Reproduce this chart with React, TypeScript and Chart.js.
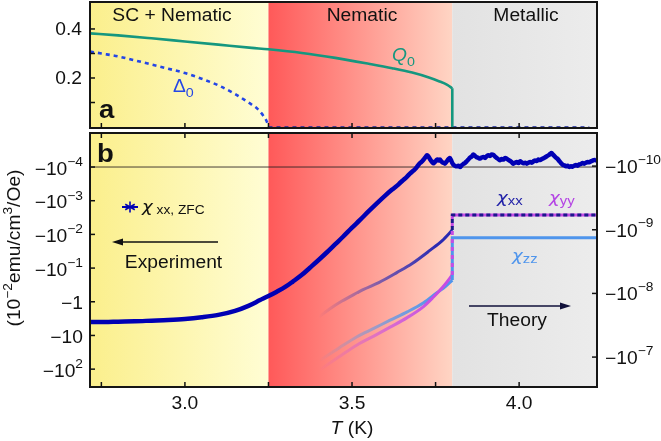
import React, { useEffect, useRef } from "react";
import { Chart, registerables } from "chart.js";
Chart.register(...registerables);

// ---------- data ----------
const T_MIN = 2.716;
const T_MAX = 4.233;
const phaseBounds = [2.716, 3.25, 3.8, 4.233];
const phaseNames = ["SC + Nematic", "Nematic", "Metallic"];

const xTicks = [2.75, 3.0, 3.25, 3.5, 3.75, 4.0];
const xTickLabels = ["", "3.0", "", "3.5", "", "4.0"];
const aTicks = [0.1, 0.2, 0.3, 0.4];
const aTickLabels = ["", "0.2", "", "0.4"];

// left axis of panel b: log10|chi| (10^-2 emu/cm^3/Oe)
const leftTicks = [-4, -3, -2, -1, 0, 1, 2];
const leftTickBase = ["\u221210", "\u221210", "\u221210", "\u221210", "\u22121", "\u221210", "\u221210"];
const leftTickSup = ["\u22124", "\u22123", "\u22122", "\u22121", "", "", "2"];
// right axis of panel b: log10|chi| theory
const rightTicks = [-10, -9, -8, -7];
const rightTickBase = ["\u221210", "\u221210", "\u221210", "\u221210"];
const rightTickSup = ["\u221210", "\u22129", "\u22128", "\u22127"];

// panel a: order parameters
const q0T = [2.716, 2.8, 2.9, 3.0, 3.1, 3.2, 3.25, 3.35, 3.45, 3.55, 3.62, 3.68, 3.73, 3.76, 3.785, 3.8];
const q0 = [0.382, 0.374, 0.362, 0.349, 0.336, 0.323, 0.317, 0.302, 0.282, 0.258, 0.24, 0.222, 0.202, 0.187, 0.172, 0.158];
const q0DropT = [3.8, 3.8];
const q0Drop = [0.158, 0.0];
const d0T = [2.716, 2.75, 2.8, 2.85, 2.9, 2.95, 3.0, 3.05, 3.1, 3.15, 3.19, 3.215, 3.235, 3.245, 3.25];
const d0 = [0.308, 0.3, 0.288, 0.272, 0.255, 0.238, 0.22, 0.197, 0.17, 0.135, 0.1, 0.077, 0.045, 0.022, 0.0];
const d0ZeroT = [3.25, 4.21];
const d0Zero = [0.0, 0.0];

// panel b: experiment chi_xx ZFC, log10|chi|
const expT = [
  2.716, 2.76, 2.8, 2.85, 2.9, 2.95, 3.0, 3.05, 3.1, 3.15, 3.19, 3.225, 3.25, 3.275, 3.3, 3.323, 3.35, 3.374,
  3.4, 3.425, 3.45, 3.473, 3.5, 3.524, 3.55, 3.575, 3.6, 3.62, 3.634, 3.645, 3.654, 3.664, 3.674, 3.682, 3.689, 3.695,
  3.7, 3.705, 3.71, 3.714, 3.718, 3.721, 3.724, 3.727, 3.73, 3.733, 3.737, 3.74, 3.744, 3.747, 3.75, 3.753, 3.756,
  3.76, 3.763, 3.767, 3.77, 3.774, 3.778, 3.782, 3.786, 3.79, 3.793, 3.796, 3.8, 3.804, 3.808, 3.813, 3.818, 3.823,
  3.828, 3.833, 3.838, 3.843, 3.848, 3.853, 3.858, 3.863, 3.868, 3.873, 3.878, 3.883, 3.888, 3.893, 3.898, 3.903,
  3.908, 3.913, 3.918, 3.923, 3.928, 3.933, 3.938, 3.943, 3.948, 3.953, 3.958, 3.963, 3.968, 3.973, 3.978, 3.983,
  3.988, 3.993, 3.998, 4.003, 4.008, 4.013, 4.018, 4.023, 4.028, 4.033, 4.038, 4.043, 4.048, 4.053, 4.058, 4.063,
  4.068, 4.073, 4.078, 4.083, 4.088, 4.093, 4.097, 4.101, 4.105, 4.11, 4.115, 4.12, 4.125, 4.13, 4.135, 4.14, 4.145,
  4.15, 4.155, 4.16, 4.165, 4.17, 4.175, 4.18, 4.185, 4.19, 4.195, 4.2, 4.205, 4.21, 4.215, 4.22, 4.225, 4.23, 4.233,
];
const expLog = [
  0.6, 0.6, 0.59, 0.58, 0.56, 0.54, 0.51, 0.46, 0.39, 0.27, 0.12, -0.05, -0.17, -0.3, -0.44, -0.6, -0.8, -1.01,
  -1.24, -1.47, -1.71, -1.93, -2.2, -2.43, -2.69, -2.93, -3.16, -3.33, -3.44, -3.54, -3.62, -3.71, -3.81, -3.88, -3.94, -4.01,
  -4.08, -4.13, -4.17, -4.22, -4.27, -4.31, -4.35, -4.33, -4.29, -4.24, -4.18, -4.14, -4.11, -4.15, -4.17, -4.21, -4.22,
  -4.19, -4.22, -4.17, -4.14, -4.12, -4.1, -4.15, -4.2, -4.25, -4.27, -4.21, -4.12, -4.06, -4.04, -4.02, -4.04, -4.0,
  -4.05, -4.09, -4.12, -4.17, -4.22, -4.28, -4.31, -4.37, -4.33, -4.29, -4.27, -4.25, -4.28, -4.3, -4.27, -4.32,
  -4.35, -4.33, -4.37, -4.36, -4.31, -4.27, -4.23, -4.2, -4.24, -4.22, -4.27, -4.25, -4.21, -4.18, -4.14, -4.1,
  -4.13, -4.15, -4.12, -4.17, -4.14, -4.11, -4.13, -4.1, -4.13, -4.15, -4.13, -4.17, -4.19, -4.18, -4.22, -4.21,
  -4.24, -4.26, -4.29, -4.32, -4.35, -4.39, -4.42, -4.37, -4.33, -4.28, -4.24, -4.18, -4.12, -4.07, -4.05, -4.02, -4.04,
  -4.0, -4.02, -4.01, -4.04, -4.06, -4.04, -4.08, -4.09, -4.12, -4.1, -4.13, -4.15, -4.14, -4.17, -4.19, -4.21, -4.2, -4.22,
];
const refLineLog = -4;

// panel b: theory, log10|chi|
const thXXT = [3.4, 3.434, 3.47, 3.515, 3.533, 3.58, 3.635, 3.68, 3.734, 3.77, 3.8];
const thXX = [-7.63, -7.76, -7.88, -8.01, -8.06, -8.17, -8.33, -8.47, -8.68, -8.83, -8.995];
const thZZT = [3.404, 3.46, 3.515, 3.565, 3.614, 3.665, 3.713, 3.754, 3.78, 3.8];
const thZZ = [-6.95, -7.14, -7.32, -7.45, -7.58, -7.71, -7.85, -8.01, -8.11, -8.21];
const thYYT = [3.404, 3.46, 3.515, 3.565, 3.614, 3.665, 3.713, 3.743, 3.775, 3.8];
const thYY = [-6.8, -7.0, -7.19, -7.33, -7.47, -7.62, -7.79, -7.94, -8.12, -8.29];
const metT = [3.8, 3.8, 4.233];
const metXX = [-8.995, -9.23, -9.23];
const metYY = [-8.29, -9.23, -9.23];
const metZZ = [-8.21, -8.874, -8.874];

// ---------- styles ----------
const FONT = '"Liberation Sans", Arial, Helvetica, sans-serif';
const CHI_FONT = '"DejaVu Sans", sans-serif';
const SX = 1.1;
const FS = 17.5;
const TEAL = "#15977f";
const D0BLUE = "#2446e6";
const EXPBLUE = "#0000b4";
const NAVY_DASH = "#1a1a8a";
const MAGENTA = "#c64ce4";
const LIGHTBLUE = "#4f95ec";
const phaseStart = ["#fbef8c", "#ff5959", "#e2e2e2"];
const phaseEnd = ["#fffdd4", "#ffd5c4", "#ececec"];
const fadeT = [3.4, 3.5, 3.62, 3.75];
const fadeA = [0, 0.35, 0.7, 1];

type Run = { t: string; size?: number; dy?: number; style?: string; weight?: string; color?: string; family?: string };

function fontOf(r: Run) {
  return `${r.style || "normal"} ${r.weight || "normal"} ${r.size || FS}px ${r.family || FONT}`;
}
function runsWidth(ctx: CanvasRenderingContext2D, runs: Run[]) {
  let w = 0;
  for (const r of runs) {
    ctx.font = fontOf(r);
    w += ctx.measureText(r.t).width * SX;
  }
  return w;
}
function drawRuns(ctx: CanvasRenderingContext2D, runs: Run[], x: number, y: number, align = "left", color = "#111") {
  ctx.save();
  const w = runsWidth(ctx, runs);
  let cx = align === "left" ? x : align === "right" ? x - w : x - w / 2;
  for (const r of runs) {
    ctx.save();
    ctx.font = fontOf(r);
    ctx.fillStyle = r.color || color;
    ctx.textAlign = "left";
    ctx.textBaseline = "alphabetic";
    const ww = ctx.measureText(r.t).width * SX;
    ctx.translate(cx, y + (r.dy || 0));
    ctx.scale(SX, 1);
    ctx.fillText(r.t, 0, 0);
    ctx.restore();
    cx += ww;
  }
  ctx.restore();
}
function seg(ctx: CanvasRenderingContext2D, x0: number, y0: number, x1: number, y1: number, color = "#111", w = 1.5) {
  ctx.save();
  ctx.strokeStyle = color;
  ctx.lineWidth = w;
  ctx.beginPath();
  ctx.moveTo(x0, y0);
  ctx.lineTo(x1, y1);
  ctx.stroke();
  ctx.restore();
}
function arrow(ctx: CanvasRenderingContext2D, xFrom: number, xTo: number, y: number, color: string) {
  const dir = Math.sign(xTo - xFrom);
  seg(ctx, xFrom, y, xTo - dir * 6, y, color, 1.6);
  ctx.save();
  ctx.fillStyle = color;
  ctx.beginPath();
  ctx.moveTo(xTo, y);
  ctx.lineTo(xTo - dir * 11, y - 3.5);
  ctx.lineTo(xTo - dir * 11, y + 3.5);
  ctx.closePath();
  ctx.fill();
  ctx.restore();
}
function drawPhases(chart: any) {
  const { ctx, chartArea: a } = chart;
  const xs = chart.scales.x;
  for (let i = 0; i < 3; i++) {
    const x0 = xs.getPixelForValue(phaseBounds[i]);
    const x1 = xs.getPixelForValue(phaseBounds[i + 1]);
    const g = ctx.createLinearGradient(x0, 0, x1, 0);
    g.addColorStop(0, phaseStart[i]);
    g.addColorStop(1, phaseEnd[i]);
    ctx.save();
    ctx.fillStyle = g;
    ctx.fillRect(x0, a.top, x1 - x0, a.bottom - a.top);
    ctx.restore();
  }
}
function frame(ctx: CanvasRenderingContext2D, a: any) {
  ctx.save();
  ctx.strokeStyle = "#151515";
  ctx.lineWidth = 2;
  ctx.strokeRect(a.left, a.top, a.right - a.left, a.bottom - a.top);
  ctx.restore();
}
function fade(chart: any, rgb: string) {
  const a = chart.chartArea;
  const xs = chart.scales && chart.scales.x;
  if (!a || !xs) return `rgb(${rgb})`;
  const x0 = xs.getPixelForValue(fadeT[0]);
  const x1 = xs.getPixelForValue(fadeT[fadeT.length - 1]);
  const g = chart.ctx.createLinearGradient(x0, 0, x1, 0);
  fadeT.forEach((t, i) => {
    g.addColorStop((t - fadeT[0]) / (fadeT[fadeT.length - 1] - fadeT[0]), `rgba(${rgb},${fadeA[i]})`);
  });
  return g;
}
const pts = (xs: number[], ys: number[]) => xs.map((x, i) => ({ x, y: ys[i] }));
const chi = (size = FS): Run => ({ t: "\u03c7", style: "italic", family: CHI_FONT, size: size - 1 });

const pluginA = {
  id: "panelA",
  beforeDatasetsDraw(chart: any) {
    drawPhases(chart);
  },
  afterDatasetsDraw(chart: any) {
    const { ctx, chartArea: a } = chart;
    const xs = chart.scales.x;
    const ys = chart.scales.y;
    frame(ctx, a);
    xTicks.forEach((v) => {
      const px = xs.getPixelForValue(v);
      seg(ctx, px, a.bottom, px, a.bottom - 5);
    });
    aTicks.forEach((v, i) => {
      const py = ys.getPixelForValue(v);
      seg(ctx, a.left, py, a.left + 5, py);
      if (aTickLabels[i]) drawRuns(ctx, [{ t: aTickLabels[i] }], a.left - 8, py + 6.5, "right");
    });
    const nameX = [172, 362, 526];
    phaseNames.forEach((n, i) => drawRuns(ctx, [{ t: n }], nameX[i], 21, "center"));
    drawRuns(ctx, [{ t: "a", weight: "bold", size: 25 }], 99, 118, "left");
    drawRuns(ctx, [{ t: "Q", style: "italic" }, { t: "0", size: 13, dy: 5 }], 392, 61, "left", TEAL);
    drawRuns(ctx, [{ t: "\u0394" }, { t: "0", size: 13, dy: 5 }], 173, 92, "left", D0BLUE);
  },
};

const pluginB = {
  id: "panelB",
  beforeDatasetsDraw(chart: any) {
    drawPhases(chart);
    const { ctx, chartArea: a } = chart;
    const py = chart.scales.yL.getPixelForValue(refLineLog);
    seg(ctx, a.left, py, a.right, py, "rgba(40,30,30,0.85)", 1);
  },
  afterDatasetsDraw(chart: any) {
    const { ctx, chartArea: a } = chart;
    const xs = chart.scales.x;
    const yl = chart.scales.yL;
    const yr = chart.scales.yR;
    frame(ctx, a);
    xTicks.forEach((v, i) => {
      const px = xs.getPixelForValue(v);
      seg(ctx, px, a.top, px, a.top + 5);
      seg(ctx, px, a.bottom, px, a.bottom - 5);
      if (xTickLabels[i]) drawRuns(ctx, [{ t: xTickLabels[i] }], px, a.bottom + 22, "center");
    });
    leftTicks.forEach((v, i) => {
      const py = yl.getPixelForValue(v);
      seg(ctx, a.left, py, a.left + 5, py);
      const runs: Run[] = [{ t: leftTickBase[i] }];
      if (leftTickSup[i]) runs.push({ t: leftTickSup[i], size: 12.5, dy: -8.5 });
      drawRuns(ctx, runs, a.left - 7, py + 7.5, "right");
    });
    rightTicks.forEach((v, i) => {
      const py = yr.getPixelForValue(v);
      seg(ctx, a.right, py, a.right - 5, py);
      const runs: Run[] = [{ t: rightTickBase[i] }, { t: rightTickSup[i], size: 12.5, dy: -9.5 }];
      drawRuns(ctx, runs, a.right + 8, py + 7, "left");
    });
    // axis titles
    drawRuns(ctx, [{ t: "T", style: "italic" }, { t: " (K)" }], 352, 303, "center");
    ctx.save();
    ctx.translate(13, 117);
    ctx.rotate(-Math.PI / 2);
    drawRuns(
      ctx,
      [{ t: "(10" }, { t: "\u22122", size: 12.5, dy: -8 }, { t: "emu/cm" }, { t: "3", size: 12.5, dy: -8 }, { t: "/Oe)" }],
      0,
      6.5,
      "center"
    );
    ctx.restore();
    // panel label
    drawRuns(ctx, [{ t: "b", weight: "bold", size: 25 }], 97, 31, "left");
    // legend for experiment
    seg(ctx, 122, 76, 138, 76, EXPBLUE, 2);
    for (let k = 0; k < 3; k++) {
      const ang = (Math.PI / 3) * k + Math.PI / 2;
      seg(ctx, 130 - 5.5 * Math.cos(ang), 76 - 5.5 * Math.sin(ang), 130 + 5.5 * Math.cos(ang), 76 + 5.5 * Math.sin(ang), EXPBLUE, 1.6);
    }
    drawRuns(ctx, [chi(), { t: " xx, ZFC", size: 12.5, dy: 2.5 }], 142, 80.5, "left", "#111");
    arrow(ctx, 218, 112, 111, "#111");
    drawRuns(ctx, [{ t: "Experiment" }], 173.5, 136.5, "center");
    arrow(ctx, 469, 571, 175, "#10103a");
    drawRuns(ctx, [{ t: "Theory" }], 517, 195, "center");
    drawRuns(ctx, [chi(), { t: "xx", size: 13.5, dy: 2 }], 497, 72, "left", "#2222a8");
    drawRuns(ctx, [chi(), { t: "yy", size: 13.5, dy: 2 }], 549, 72, "left", "#b445e4");
    drawRuns(ctx, [chi(), { t: "zz", size: 13.5, dy: 2 }], 512, 130, "left", LIGHTBLUE);
  },
};

export default function App() {
  const aRef = useRef<HTMLCanvasElement | null>(null);
  const bRef = useRef<HTMLCanvasElement | null>(null);

  useEffect(() => {
    const common = {
      responsive: false,
      animation: false as const,
      events: [] as any[],
      plugins: { legend: { display: false }, tooltip: { enabled: false } },
    };
    const chartA = new Chart(aRef.current!, {
      type: "line",
      data: {
        datasets: [
          { data: pts(q0T, q0), borderColor: TEAL, borderWidth: 2.6, pointRadius: 0, cubicInterpolationMode: "monotone", order: 1 },
          { data: pts(q0DropT, q0Drop), borderColor: TEAL, borderWidth: 2.6, pointRadius: 0, tension: 0, order: 1 },
          { data: pts(d0T, d0), borderColor: D0BLUE, borderWidth: 2.6, borderDash: [4, 4], pointRadius: 0, cubicInterpolationMode: "monotone", order: 2 },
          { data: pts(d0ZeroT, d0Zero), borderColor: "#1c2a9c", borderWidth: 1.6, borderDash: [4, 4], pointRadius: 0, tension: 0, order: 2 },
        ],
      },
      options: {
        ...common,
        layout: { padding: { left: 90, right: 64, top: 2, bottom: 3 } },
        scales: {
          x: { type: "linear", min: T_MIN, max: T_MAX, display: false },
          y: { type: "linear", min: -0.004, max: 0.51, display: false },
        },
      } as any,
      plugins: [pluginA],
    });

    const chartB = new Chart(bRef.current!, {
      type: "line",
      data: {
        datasets: [
          { data: pts(expT, expLog), yAxisID: "yL", borderColor: EXPBLUE, borderWidth: 4.5, pointRadius: 0, cubicInterpolationMode: "monotone", borderJoinStyle: "round", order: 0 },
          { data: pts(metT, metXX), yAxisID: "yR", borderColor: NAVY_DASH, borderWidth: 3, borderDash: [4, 3], pointRadius: 0, tension: 0, order: 1 },
          {
            data: pts(metT, metYY),
            yAxisID: "yR",
            borderColor: MAGENTA,
            borderWidth: 3,
            pointRadius: 0,
            tension: 0,
            order: 2,
            segment: { borderDash: (c: any) => (c.p0.parsed.x === c.p1.parsed.x ? [4, 4] : undefined) },
          },
          { data: pts(metT, metZZ), yAxisID: "yR", borderColor: LIGHTBLUE, borderWidth: 3, pointRadius: 0, tension: 0, order: 3 },
          { data: pts(thXXT, thXX), yAxisID: "yR", borderColor: (c: any) => fade(c.chart, "42,42,178"), borderWidth: 3, pointRadius: 0, cubicInterpolationMode: "monotone", order: 4 },
          { data: pts(thYYT, thYY), yAxisID: "yR", borderColor: (c: any) => fade(c.chart, "198,76,228"), borderWidth: 3, pointRadius: 0, cubicInterpolationMode: "monotone", order: 5 },
          { data: pts(thZZT, thZZ), yAxisID: "yR", borderColor: (c: any) => fade(c.chart, "79,149,236"), borderWidth: 3, pointRadius: 0, cubicInterpolationMode: "monotone", order: 6 },
        ],
      },
      options: {
        ...common,
        layout: { padding: { left: 90, right: 64, top: 2, bottom: 54 } },
        scales: {
          x: { type: "linear", min: T_MIN, max: T_MAX, display: false },
          yL: { type: "linear", position: "left", min: -5.01, max: 2.53, reverse: true, display: false },
          yR: { type: "linear", position: "right", min: -10.52, max: -6.53, reverse: true, display: false },
        },
      } as any,
      plugins: [pluginB],
    });

    return () => {
      chartA.destroy();
      chartB.destroy();
    };
  }, []);

  return (
    <div style={{ position: "fixed", left: 0, top: 0, width: 661, height: 441, background: "#fff" }}>
      <canvas ref={aRef} width={661} height={131} style={{ position: "absolute", left: 0, top: 0 }} />
      <canvas ref={bRef} width={661} height={310} style={{ position: "absolute", left: 0, top: 131 }} />
    </div>
  );
}
